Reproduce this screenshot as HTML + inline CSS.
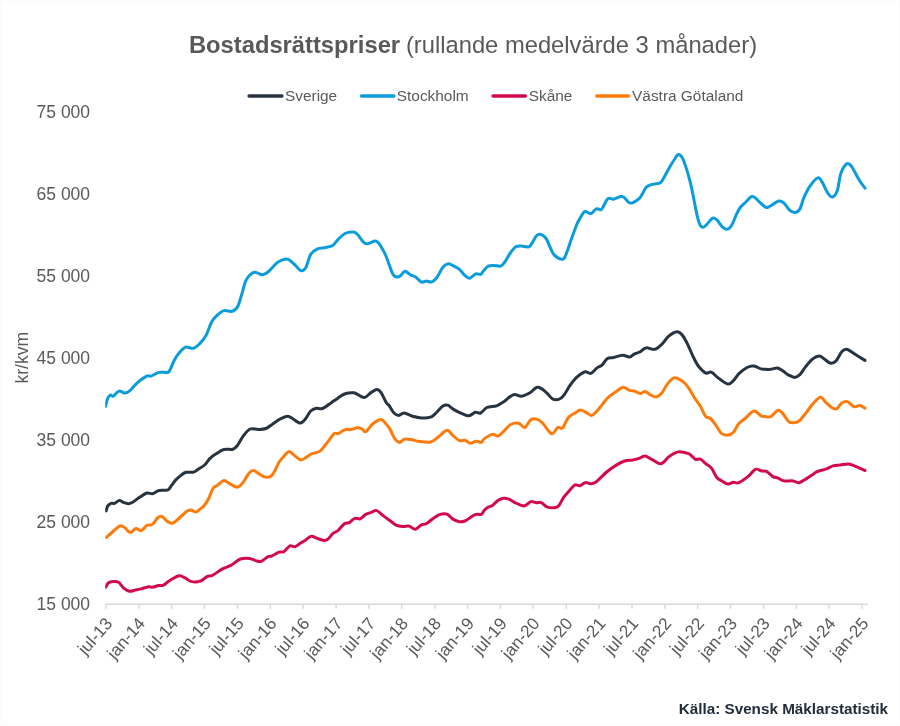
<!DOCTYPE html>
<html><head><meta charset="utf-8"><style>
html,body{margin:0;padding:0;background:#fff;}
body{width:900px;height:726px;overflow:hidden;position:relative;font-family:"Liberation Sans",sans-serif;}
svg{position:absolute;left:0;top:0;will-change:transform;}
text{font-family:"Liberation Sans",sans-serif;}
.yl{font-size:17.5px;fill:#595959;}
.xl{font-size:17.2px;fill:#595959;}
.lg{font-size:15.4px;fill:#595959;}
</style></head><body>
<svg width="900" height="726" viewBox="0 0 900 726">
<defs><clipPath id="pc"><rect x="105.2" y="100" width="780" height="520"/></clipPath></defs>
<rect x="0.5" y="0.5" width="899" height="725" fill="#fff" stroke="#fbfbfb" stroke-width="1"/>
<text x="188.9" y="52.9" style="font-size:23.75px;fill:#595959"><tspan font-weight="bold">Bostadsrättspriser</tspan><tspan dx="-0.8"> (rullande medelvärde 3 månader)</tspan></text>
<g stroke-width="3.3" stroke-linecap="round">
<line x1="249" y1="96" x2="282" y2="96" stroke="#273440"/>
<line x1="361.5" y1="96" x2="394" y2="96" stroke="#0b9cdc"/>
<line x1="493" y1="96" x2="525.5" y2="96" stroke="#d20a4c"/>
<line x1="596.8" y1="96" x2="628.5" y2="96" stroke="#fd7b0a"/>
</g>
<text class="lg" x="285" y="100.5">Sverige</text>
<text class="lg" x="396.8" y="100.5">Stockholm</text>
<text class="lg" x="528.7" y="100.5">Skåne</text>
<text class="lg" x="632.1" y="100.5">Västra Götaland</text>
<text class="yl" transform="translate(27.7,383.5) rotate(-90)" style="font-size:17.5px">kr/kvm</text>
<text x="90.1" y="609.8" text-anchor="end" class="yl">15 000</text>
<text x="90.1" y="527.8" text-anchor="end" class="yl">25 000</text>
<text x="90.1" y="445.8" text-anchor="end" class="yl">35 000</text>
<text x="90.1" y="363.7" text-anchor="end" class="yl">45 000</text>
<text x="90.1" y="281.7" text-anchor="end" class="yl">55 000</text>
<text x="90.1" y="199.7" text-anchor="end" class="yl">65 000</text>
<text x="90.1" y="117.7" text-anchor="end" class="yl">75 000</text>
<line x1="105.9" y1="604.3" x2="867.7" y2="604.3" stroke="#d9d9d9" stroke-width="1.5"/>
<line x1="105.9" y1="604.3" x2="105.9" y2="608.8" stroke="#d9d9d9" stroke-width="1.5"/>
<text class="xl" text-anchor="end" transform="translate(113.2,624.1) rotate(-49)">jul-13</text>
<line x1="138.8" y1="604.3" x2="138.8" y2="608.8" stroke="#d9d9d9" stroke-width="1.5"/>
<text class="xl" text-anchor="end" transform="translate(146.1,624.1) rotate(-49)">jan-14</text>
<line x1="171.7" y1="604.3" x2="171.7" y2="608.8" stroke="#d9d9d9" stroke-width="1.5"/>
<text class="xl" text-anchor="end" transform="translate(179.0,624.1) rotate(-49)">jul-14</text>
<line x1="204.5" y1="604.3" x2="204.5" y2="608.8" stroke="#d9d9d9" stroke-width="1.5"/>
<text class="xl" text-anchor="end" transform="translate(211.8,624.1) rotate(-49)">jan-15</text>
<line x1="237.4" y1="604.3" x2="237.4" y2="608.8" stroke="#d9d9d9" stroke-width="1.5"/>
<text class="xl" text-anchor="end" transform="translate(244.7,624.1) rotate(-49)">jul-15</text>
<line x1="270.3" y1="604.3" x2="270.3" y2="608.8" stroke="#d9d9d9" stroke-width="1.5"/>
<text class="xl" text-anchor="end" transform="translate(277.6,624.1) rotate(-49)">jan-16</text>
<line x1="303.2" y1="604.3" x2="303.2" y2="608.8" stroke="#d9d9d9" stroke-width="1.5"/>
<text class="xl" text-anchor="end" transform="translate(310.5,624.1) rotate(-49)">jul-16</text>
<line x1="336.1" y1="604.3" x2="336.1" y2="608.8" stroke="#d9d9d9" stroke-width="1.5"/>
<text class="xl" text-anchor="end" transform="translate(343.4,624.1) rotate(-49)">jan-17</text>
<line x1="368.9" y1="604.3" x2="368.9" y2="608.8" stroke="#d9d9d9" stroke-width="1.5"/>
<text class="xl" text-anchor="end" transform="translate(376.2,624.1) rotate(-49)">jul-17</text>
<line x1="401.8" y1="604.3" x2="401.8" y2="608.8" stroke="#d9d9d9" stroke-width="1.5"/>
<text class="xl" text-anchor="end" transform="translate(409.1,624.1) rotate(-49)">jan-18</text>
<line x1="434.7" y1="604.3" x2="434.7" y2="608.8" stroke="#d9d9d9" stroke-width="1.5"/>
<text class="xl" text-anchor="end" transform="translate(442.0,624.1) rotate(-49)">jul-18</text>
<line x1="467.6" y1="604.3" x2="467.6" y2="608.8" stroke="#d9d9d9" stroke-width="1.5"/>
<text class="xl" text-anchor="end" transform="translate(474.9,624.1) rotate(-49)">jan-19</text>
<line x1="500.5" y1="604.3" x2="500.5" y2="608.8" stroke="#d9d9d9" stroke-width="1.5"/>
<text class="xl" text-anchor="end" transform="translate(507.8,624.1) rotate(-49)">jul-19</text>
<line x1="533.3" y1="604.3" x2="533.3" y2="608.8" stroke="#d9d9d9" stroke-width="1.5"/>
<text class="xl" text-anchor="end" transform="translate(540.6,624.1) rotate(-49)">jan-20</text>
<line x1="566.2" y1="604.3" x2="566.2" y2="608.8" stroke="#d9d9d9" stroke-width="1.5"/>
<text class="xl" text-anchor="end" transform="translate(573.5,624.1) rotate(-49)">jul-20</text>
<line x1="599.1" y1="604.3" x2="599.1" y2="608.8" stroke="#d9d9d9" stroke-width="1.5"/>
<text class="xl" text-anchor="end" transform="translate(606.4,624.1) rotate(-49)">jan-21</text>
<line x1="632.0" y1="604.3" x2="632.0" y2="608.8" stroke="#d9d9d9" stroke-width="1.5"/>
<text class="xl" text-anchor="end" transform="translate(639.3,624.1) rotate(-49)">jul-21</text>
<line x1="664.9" y1="604.3" x2="664.9" y2="608.8" stroke="#d9d9d9" stroke-width="1.5"/>
<text class="xl" text-anchor="end" transform="translate(672.2,624.1) rotate(-49)">jan-22</text>
<line x1="697.7" y1="604.3" x2="697.7" y2="608.8" stroke="#d9d9d9" stroke-width="1.5"/>
<text class="xl" text-anchor="end" transform="translate(705.0,624.1) rotate(-49)">jul-22</text>
<line x1="730.6" y1="604.3" x2="730.6" y2="608.8" stroke="#d9d9d9" stroke-width="1.5"/>
<text class="xl" text-anchor="end" transform="translate(737.9,624.1) rotate(-49)">jan-23</text>
<line x1="763.5" y1="604.3" x2="763.5" y2="608.8" stroke="#d9d9d9" stroke-width="1.5"/>
<text class="xl" text-anchor="end" transform="translate(770.8,624.1) rotate(-49)">jul-23</text>
<line x1="796.4" y1="604.3" x2="796.4" y2="608.8" stroke="#d9d9d9" stroke-width="1.5"/>
<text class="xl" text-anchor="end" transform="translate(803.7,624.1) rotate(-49)">jan-24</text>
<line x1="829.3" y1="604.3" x2="829.3" y2="608.8" stroke="#d9d9d9" stroke-width="1.5"/>
<text class="xl" text-anchor="end" transform="translate(836.6,624.1) rotate(-49)">jul-24</text>
<line x1="862.1" y1="604.3" x2="862.1" y2="608.8" stroke="#d9d9d9" stroke-width="1.5"/>
<text class="xl" text-anchor="end" transform="translate(869.4,624.1) rotate(-49)">jan-25</text>
<path clip-path="url(#pc)" d="M105.8,587.1C106.2,586.4 107.1,583.9 108.3,583.0C109.5,582.1 111.4,581.7 113.1,581.6C114.8,581.5 116.9,581.3 118.6,582.3C120.3,583.3 121.6,586.3 123.4,587.8C125.2,589.3 127.5,590.9 129.6,591.3C131.7,591.6 133.9,590.3 135.8,589.9C137.8,589.5 139.4,589.4 141.3,588.9C143.2,588.4 145.6,587.2 147.5,586.9C149.4,586.6 151.2,587.3 153.0,587.1C154.8,586.9 156.8,585.8 158.5,585.5C160.2,585.2 161.5,586.0 163.4,585.1C165.3,584.2 167.6,581.8 170.2,580.2C172.8,578.7 176.7,576.1 179.2,575.8C181.7,575.5 183.3,577.2 185.4,578.2C187.5,579.2 189.1,581.1 191.6,581.6C194.1,582.1 197.9,581.9 200.5,581.0C203.1,580.1 205.5,577.3 207.4,576.4C209.3,575.5 209.7,576.8 212.2,575.5C214.7,574.2 219.4,570.6 222.5,568.9C225.6,567.2 227.8,567.0 230.8,565.4C233.8,563.8 237.4,560.1 240.5,559.0C243.6,557.9 246.9,558.2 249.4,558.5C251.9,558.8 253.6,560.1 255.6,560.6C257.6,561.1 259.0,561.9 261.1,561.3C263.2,560.6 266.2,557.6 268.0,556.7C269.8,555.8 270.3,556.6 272.1,555.8C273.9,555.0 277.1,552.8 279.0,552.1C280.9,551.4 282.0,552.8 283.8,551.7C285.6,550.7 288.2,546.6 290.0,545.8C291.8,545.0 293.0,547.3 294.8,546.8C296.6,546.3 299.2,543.9 301.0,542.7C302.8,541.6 304.1,541.0 305.8,539.9C307.5,538.8 309.4,536.4 311.3,536.2C313.2,536.0 315.3,537.8 317.5,538.5C319.7,539.2 322.7,540.5 324.4,540.6C326.1,540.7 326.5,540.4 327.9,539.2C329.3,538.1 331.0,535.2 332.7,533.7C334.4,532.2 336.2,531.9 338.2,530.3C340.1,528.6 342.6,525.1 344.4,523.8C346.2,522.5 347.5,523.6 349.2,522.7C350.9,521.8 352.9,518.9 354.7,518.3C356.5,517.6 358.3,519.4 360.2,518.8C362.1,518.1 363.9,515.5 365.8,514.4C367.7,513.3 369.5,513.0 371.3,512.4C373.1,511.8 374.7,510.0 376.8,510.6C378.9,511.2 381.4,514.4 383.7,516.1C386.0,517.8 388.4,519.5 390.5,521.0C392.6,522.5 393.9,524.2 396.0,525.1C398.1,526.0 400.7,526.3 402.9,526.5C405.1,526.7 407.0,525.6 409.1,526.1C411.2,526.6 413.2,529.4 415.3,529.2C417.4,529.0 419.7,525.7 421.5,524.8C423.3,523.9 424.4,524.8 426.3,523.7C428.2,522.7 430.9,520.0 433.2,518.5C435.5,517.0 437.8,515.1 440.1,514.4C442.4,513.7 444.9,513.4 447.0,514.1C449.1,514.9 450.4,517.6 452.5,518.9C454.6,520.2 457.3,521.4 459.4,521.7C461.5,522.1 463.1,521.7 464.9,521.0C466.7,520.3 468.6,518.6 470.4,517.5C472.2,516.4 474.1,514.9 475.9,514.4C477.7,513.9 480.0,515.0 481.4,514.4C482.8,513.8 483.0,511.8 484.1,510.6C485.2,509.4 486.9,508.0 488.3,507.1C489.7,506.2 490.8,506.6 492.4,505.5C494.0,504.4 496.1,501.7 497.9,500.5C499.7,499.3 501.6,498.4 503.4,498.2C505.2,498.0 506.8,498.3 508.9,499.1C511.0,499.9 513.5,501.9 515.8,503.0C518.1,504.1 521.0,505.4 522.7,505.8C524.4,506.2 524.7,505.8 526.1,505.1C527.5,504.4 529.3,502.0 531.0,501.6C532.7,501.2 534.8,502.5 536.5,502.7C538.2,502.9 539.5,501.9 541.3,502.6C543.1,503.3 545.1,506.3 547.5,507.1C549.9,507.9 553.8,507.7 555.8,507.4C557.8,507.1 557.8,506.9 559.2,505.1C560.6,503.3 562.3,499.2 564.0,496.8C565.7,494.4 567.7,492.6 569.5,490.6C571.3,488.6 573.3,485.6 575.0,484.8C576.7,484.0 578.1,486.2 579.8,485.8C581.5,485.4 583.5,483.0 585.3,482.6C587.1,482.2 589.0,483.9 590.8,483.7C592.6,483.5 593.6,483.6 596.3,481.7C598.9,479.8 603.4,474.8 606.7,472.0C610.0,469.2 613.3,466.9 616.3,465.1C619.3,463.3 621.8,461.9 624.6,461.0C627.4,460.1 630.4,460.5 632.9,460.0C635.4,459.5 637.7,458.9 639.7,458.2C641.8,457.5 643.1,455.7 645.2,455.9C647.3,456.1 649.5,458.3 652.1,459.6C654.8,460.9 658.3,464.1 661.1,463.7C663.9,463.2 666.5,458.6 668.7,456.9C670.9,455.2 672.3,454.2 674.1,453.4C675.9,452.5 677.3,451.8 679.6,451.8C681.9,451.8 685.8,452.7 687.9,453.4C690.0,454.1 690.7,455.2 692.0,456.2C693.3,457.2 694.1,458.8 695.5,459.3C696.9,459.8 698.6,458.5 700.3,459.2C702.0,459.9 704.0,462.2 705.8,463.7C707.6,465.1 709.5,465.6 711.3,467.9C713.1,470.2 715.0,475.3 716.8,477.5C718.6,479.7 720.4,480.1 722.3,481.2C724.1,482.3 726.0,483.8 727.9,484.0C729.8,484.2 731.6,482.5 733.4,482.3C735.2,482.1 736.4,483.6 738.9,482.6C741.4,481.6 745.8,478.3 748.5,476.1C751.2,473.9 753.2,470.2 755.4,469.3C757.6,468.4 759.8,470.7 761.6,471.0C763.4,471.3 764.5,470.4 766.4,471.3C768.3,472.2 771.1,475.5 773.0,476.6C774.9,477.7 776.2,477.3 778.0,478.0C779.8,478.7 781.3,480.4 783.8,480.9C786.3,481.4 790.7,480.6 793.2,480.9C795.7,481.2 797.0,483.1 799.0,482.8C801.0,482.5 803.5,480.4 805.5,479.2C807.5,478.0 809.4,476.9 811.3,475.6C813.2,474.4 814.7,472.8 817.1,471.7C819.5,470.6 823.1,470.1 825.7,469.1C828.4,468.1 830.6,466.6 833.0,465.9C835.4,465.2 837.7,465.3 840.2,465.0C842.7,464.7 846.0,463.9 848.2,464.0C850.4,464.1 851.4,464.8 853.2,465.4C855.0,466.0 857.0,467.0 859.0,467.9C861.0,468.8 864.0,470.1 865.0,470.5" fill="none" stroke="#d20a4c" stroke-width="3" stroke-linejoin="round" stroke-linecap="round"/>
<path clip-path="url(#pc)" d="M106.2,537.5C107.2,536.6 110.1,534.0 112.4,532.0C114.7,530.0 117.9,526.5 120.0,525.8C122.1,525.1 123.1,526.7 124.8,527.8C126.5,528.9 128.5,532.5 130.3,532.6C132.1,532.7 134.0,528.8 135.8,528.5C137.6,528.2 139.5,531.1 141.3,530.6C143.1,530.1 145.0,526.5 146.8,525.5C148.6,524.5 150.5,525.7 152.3,524.4C154.2,523.1 156.3,518.8 157.9,517.5C159.5,516.2 160.4,515.7 162.0,516.4C163.6,517.1 165.7,520.5 167.5,521.6C169.3,522.7 170.9,523.7 173.0,523.0C175.1,522.3 177.6,519.5 179.9,517.5C182.2,515.5 185.0,512.6 186.8,511.3C188.6,510.0 189.4,509.8 190.9,509.9C192.4,510.0 194.2,512.1 195.7,512.0C197.2,511.9 198.5,510.4 200.0,509.2C201.5,508.0 203.1,506.8 204.6,505.0C206.1,503.2 207.4,500.9 208.8,498.2C210.2,495.4 211.4,490.7 212.9,488.5C214.4,486.3 215.9,486.4 217.7,485.1C219.5,483.8 221.7,480.6 223.9,480.5C226.1,480.4 228.5,483.3 230.8,484.4C233.1,485.5 235.6,487.5 237.7,487.1C239.8,486.8 241.4,484.6 243.2,482.3C245.0,480.0 247.0,475.3 248.7,473.4C250.4,471.4 251.9,470.6 253.5,470.6C255.1,470.6 256.7,472.4 258.4,473.4C260.1,474.4 261.8,476.3 263.9,476.8C266.0,477.3 269.0,477.4 270.8,476.4C272.6,475.4 273.5,473.0 274.9,470.6C276.3,468.2 277.4,464.8 279.0,462.3C280.6,459.8 282.8,457.3 284.5,455.5C286.2,453.7 287.6,451.5 289.4,451.6C291.2,451.8 293.6,455.0 295.5,456.4C297.4,457.8 299.2,459.9 301.0,460.0C302.8,460.1 304.7,458.2 306.5,457.1C308.3,456.1 309.7,454.7 312.0,453.7C314.3,452.7 317.8,452.8 320.3,450.9C322.8,449.0 324.9,445.5 327.2,442.6C329.5,439.7 332.3,435.2 334.1,433.7C335.9,432.2 336.4,434.4 338.2,433.7C340.0,433.0 343.0,430.3 345.1,429.6C347.2,428.9 348.5,429.9 350.6,429.6C352.7,429.3 355.7,428.0 357.5,427.8C359.3,427.6 360.2,428.0 361.6,428.6C363.0,429.2 364.0,432.4 365.8,431.6C367.6,430.8 370.1,426.0 372.6,424.0C375.1,422.0 378.8,419.7 380.9,419.5C383.0,419.3 383.5,421.1 385.0,422.7C386.5,424.3 388.2,426.3 389.8,428.9C391.4,431.5 393.0,436.2 394.6,438.5C396.2,440.8 397.9,442.3 399.5,442.4C401.1,442.5 402.4,439.7 404.3,439.2C406.2,438.7 408.7,439.2 411.2,439.6C413.7,440.0 416.2,441.1 419.4,441.5C422.6,441.9 427.5,442.6 430.5,442.0C433.5,441.4 435.2,439.3 437.3,437.8C439.4,436.3 441.2,434.3 442.9,433.0C444.6,431.7 446.1,429.8 447.7,430.2C449.3,430.6 450.6,433.4 452.5,435.1C454.4,436.8 457.3,439.8 459.4,440.6C461.5,441.5 463.1,439.8 464.9,440.2C466.7,440.6 468.6,443.1 470.4,443.3C472.2,443.5 474.1,441.5 475.9,441.3C477.7,441.1 480.0,442.8 481.4,442.4C482.8,442.0 482.3,440.2 484.1,438.9C485.9,437.6 490.1,434.9 492.4,434.4C494.7,433.9 496.1,436.6 497.9,436.1C499.7,435.6 501.3,433.5 503.4,431.6C505.5,429.7 507.8,426.1 510.3,424.7C512.8,423.3 516.2,422.8 518.6,423.3C521.0,423.8 522.7,428.1 524.8,427.5C526.9,426.9 528.8,420.9 531.0,419.6C533.2,418.3 535.8,418.9 537.9,419.6C540.0,420.3 541.1,421.6 543.4,424.0C545.7,426.4 549.2,433.1 551.6,433.7C554.0,434.3 556.0,428.5 557.8,427.5C559.6,426.5 560.9,429.5 562.6,427.9C564.3,426.3 566.1,420.3 568.2,417.8C570.3,415.3 573.0,414.3 575.0,413.0C577.0,411.7 578.7,410.0 580.5,409.9C582.3,409.8 584.2,411.4 586.0,412.3C587.8,413.2 589.7,415.6 591.5,415.4C593.3,415.2 595.2,412.9 597.0,411.0C598.8,409.1 600.6,406.4 602.5,404.1C604.4,401.9 605.8,399.6 608.1,397.5C610.4,395.4 613.8,393.1 616.3,391.4C618.8,389.7 621.0,387.5 623.2,387.3C625.4,387.1 627.6,389.7 629.4,390.3C631.2,390.9 632.4,390.5 634.2,391.0C636.0,391.5 638.6,393.4 640.4,393.5C642.2,393.6 643.5,391.1 645.2,391.4C646.9,391.7 648.9,394.2 650.8,395.1C652.6,396.0 654.5,397.2 656.3,396.9C658.1,396.6 660.0,395.2 661.8,393.1C663.6,391.0 665.2,386.6 667.3,384.1C669.3,381.6 671.6,378.4 674.1,377.9C676.6,377.4 680.1,379.8 682.4,381.3C684.7,382.8 685.9,384.2 687.9,386.9C689.9,389.5 692.0,394.0 694.1,397.2C696.2,400.4 698.3,402.9 700.3,406.1C702.2,409.3 704.1,414.4 705.8,416.5C707.5,418.6 709.0,417.1 710.6,418.5C712.2,419.9 713.6,422.2 715.5,424.7C717.4,427.2 719.6,432.0 721.7,433.7C723.8,435.4 726.0,435.3 727.9,435.1C729.8,434.9 731.6,434.2 733.4,432.3C735.2,430.4 736.9,425.7 738.9,423.4C740.9,421.1 742.6,420.6 745.1,418.5C747.6,416.4 751.4,411.4 754.0,411.0C756.6,410.6 759.1,414.9 760.9,415.8C762.7,416.7 763.4,416.4 765.0,416.5C766.6,416.6 768.6,417.5 770.8,416.5C773.0,415.5 776.0,410.7 778.0,410.3C780.0,409.9 781.3,412.0 783.1,413.9C784.9,415.8 786.9,420.4 788.9,421.8C790.9,423.2 793.6,422.8 795.4,422.6C797.2,422.4 797.8,422.2 799.7,420.4C801.6,418.6 804.5,414.7 806.9,411.7C809.3,408.7 811.9,404.7 814.2,402.3C816.5,399.9 818.8,397.3 820.7,397.3C822.6,397.3 823.9,400.6 825.7,402.3C827.5,404.0 829.7,406.3 831.5,407.4C833.3,408.5 834.9,409.5 836.6,408.8C838.3,408.1 839.9,404.2 841.7,403.0C843.5,401.8 845.4,401.0 847.4,401.6C849.4,402.2 852.0,406.1 854.0,406.7C856.0,407.3 857.9,405.3 859.7,405.5C861.5,405.7 864.1,407.7 865.0,408.1" fill="none" stroke="#fd7b0a" stroke-width="3" stroke-linejoin="round" stroke-linecap="round"/>
<path clip-path="url(#pc)" d="M106.2,510.9C106.4,510.1 106.8,507.4 107.6,506.1C108.4,504.8 109.8,503.8 111.0,503.3C112.2,502.8 113.1,503.8 114.5,503.3C115.9,502.9 117.7,500.7 119.3,500.6C120.9,500.5 122.5,502.1 124.1,502.6C125.7,503.1 127.4,503.8 128.9,503.7C130.4,503.6 131.3,503.1 133.1,502.0C134.9,500.9 137.6,498.6 139.9,497.1C142.2,495.6 144.7,493.6 146.8,493.0C148.9,492.4 150.5,494.1 152.3,493.7C154.2,493.3 156.1,491.5 157.9,490.9C159.8,490.3 161.7,490.4 163.4,490.2C165.1,490.0 166.8,490.6 168.2,489.8C169.6,489.0 170.3,487.0 171.6,485.4C172.9,483.8 174.2,481.6 175.8,479.9C177.4,478.2 179.6,476.4 181.3,475.1C183.0,473.8 184.0,472.8 186.1,472.3C188.2,471.8 191.8,472.6 193.7,472.1C195.6,471.6 196.0,470.7 197.8,469.5C199.6,468.3 202.5,466.9 204.6,465.0C206.7,463.1 208.3,460.0 210.2,458.2C212.0,456.4 213.4,455.4 215.7,454.0C218.0,452.6 221.0,450.3 223.9,449.5C226.8,448.7 230.6,449.9 232.9,449.2C235.2,448.5 236.0,447.3 237.7,445.1C239.4,442.9 241.1,438.8 243.2,436.1C245.3,433.4 247.6,430.1 250.1,429.0C252.6,427.9 255.8,429.6 258.4,429.5C261.0,429.4 263.6,429.4 265.9,428.5C268.2,427.6 269.7,426.0 272.1,424.4C274.5,422.8 277.6,420.2 280.4,418.9C283.2,417.6 286.2,416.1 288.7,416.4C291.2,416.7 293.6,419.5 295.5,420.6C297.4,421.7 298.7,423.3 300.3,423.1C301.9,422.9 303.5,421.2 305.2,419.2C306.9,417.2 308.9,412.8 310.7,411.0C312.5,409.2 314.2,408.6 316.2,408.2C318.1,407.8 319.9,409.4 322.4,408.5C324.9,407.6 328.7,404.5 331.3,402.7C333.9,400.9 335.9,399.4 338.2,397.9C340.5,396.4 342.6,394.5 345.1,393.7C347.6,392.9 351.3,392.7 353.4,392.8C355.5,392.9 355.7,393.6 357.5,394.4C359.3,395.2 362.1,397.8 364.4,397.5C366.7,397.2 369.2,393.7 371.3,392.4C373.4,391.1 375.2,389.6 376.8,389.6C378.4,389.6 379.3,390.2 380.9,392.4C382.5,394.6 385.0,400.5 386.4,402.7C387.8,404.9 387.8,403.8 389.1,405.5C390.4,407.2 392.4,411.4 394.0,413.0C395.6,414.6 397.1,415.4 398.8,415.4C400.5,415.4 402.0,412.9 404.3,413.0C406.6,413.1 409.6,415.4 412.5,416.2C415.4,417.0 418.5,417.7 421.5,417.9C424.5,418.1 428.1,418.0 430.5,417.2C432.9,416.4 433.9,414.9 436.0,413.0C438.1,411.1 440.9,407.4 442.9,406.1C444.8,404.8 445.9,404.6 447.7,405.2C449.5,405.8 451.5,408.2 453.9,409.6C456.3,411.0 459.6,412.7 462.1,413.7C464.6,414.7 466.8,416.0 469.0,415.8C471.2,415.6 473.2,412.8 475.2,412.3C477.1,411.8 478.8,413.8 480.7,413.0C482.6,412.2 484.3,408.7 486.9,407.5C489.5,406.3 493.8,406.7 496.5,405.8C499.2,404.9 500.6,403.8 503.4,402.0C506.2,400.2 510.1,395.8 513.1,394.8C516.1,393.8 518.5,396.5 521.3,396.2C524.0,395.9 527.1,394.4 529.6,393.0C532.1,391.6 534.4,388.2 536.5,387.5C538.6,386.8 540.2,387.9 542.0,388.9C543.8,389.9 545.7,392.0 547.5,393.7C549.3,395.4 551.0,398.3 553.0,399.2C555.0,400.1 557.4,399.9 559.2,399.2C561.0,398.5 562.3,397.3 564.0,395.1C565.7,392.9 567.7,388.8 569.5,386.1C571.3,383.4 573.3,380.8 575.0,378.9C576.7,377.0 578.1,375.9 579.8,374.7C581.5,373.5 583.5,371.9 585.3,371.7C587.1,371.5 588.8,374.0 590.8,373.4C592.8,372.8 595.1,369.3 597.0,367.9C598.9,366.5 600.2,366.7 601.9,365.1C603.6,363.5 605.4,359.8 607.4,358.5C609.4,357.2 611.1,358.1 613.6,357.5C616.1,356.9 619.9,355.3 622.5,355.2C625.1,355.1 627.4,357.3 629.4,357.1C631.4,356.9 632.5,355.0 634.2,354.1C635.9,353.2 637.8,353.0 639.7,352.0C641.7,351.0 643.4,348.3 645.9,347.9C648.4,347.4 652.2,349.9 654.9,349.3C657.5,348.7 659.5,346.6 661.8,344.4C664.1,342.2 666.2,338.3 668.7,336.2C671.2,334.1 674.6,331.9 676.9,331.7C679.2,331.5 680.6,333.0 682.4,335.2C684.2,337.4 686.1,341.1 687.9,344.8C689.7,348.5 691.6,353.5 693.4,357.2C695.2,360.9 696.8,364.2 698.9,366.8C701.0,369.4 703.7,372.1 705.8,373.0C707.9,373.9 709.2,371.3 711.3,372.1C713.4,372.9 715.4,375.9 718.2,377.9C721.0,379.9 725.4,383.6 727.9,384.0C730.4,384.4 731.6,382.3 733.4,380.6C735.2,378.9 736.6,375.9 738.9,373.7C741.2,371.5 744.6,368.8 747.1,367.5C749.6,366.2 751.7,365.9 754.0,366.1C756.3,366.3 759.1,368.4 760.9,368.9C762.7,369.4 763.4,369.2 765.0,369.3C766.6,369.4 768.8,369.5 770.8,369.3C772.8,369.1 775.4,367.7 777.3,367.9C779.2,368.1 780.6,369.4 782.4,370.5C784.2,371.6 786.0,373.7 788.1,374.8C790.2,375.9 792.8,377.4 794.7,377.4C796.6,377.4 797.9,376.6 799.7,374.8C801.5,373.1 803.3,369.5 805.5,366.9C807.7,364.2 810.4,360.7 812.7,358.9C815.0,357.1 817.3,356.0 819.2,356.0C821.1,356.0 822.5,357.7 824.3,358.9C826.1,360.1 828.2,362.6 830.1,363.0C832.0,363.4 834.0,363.0 835.9,361.1C837.8,359.2 839.9,353.7 841.7,351.7C843.5,349.7 844.8,349.0 846.7,349.2C848.6,349.4 851.2,351.8 853.2,353.1C855.2,354.4 857.0,355.6 859.0,356.8C861.0,358.0 864.0,359.8 865.0,360.4" fill="none" stroke="#273440" stroke-width="3" stroke-linejoin="round" stroke-linecap="round"/>
<path clip-path="url(#pc)" d="M105.6,406.2C105.9,404.9 106.9,400.2 107.7,398.3C108.5,396.4 109.6,395.4 110.5,395.0C111.4,394.6 111.9,396.8 113.3,396.1C114.7,395.5 117.0,391.6 118.9,391.1C120.9,390.6 123.2,393.2 125.0,393.1C126.8,393.0 128.1,392.2 130.0,390.6C131.9,389.0 133.9,385.7 136.7,383.3C139.5,380.9 144.3,377.3 146.7,376.1C149.1,374.9 149.1,376.7 151.1,376.1C153.1,375.5 156.3,373.0 158.9,372.4C161.5,371.8 164.9,372.6 166.7,372.4C168.4,372.2 168.1,373.2 169.4,371.1C170.7,369.0 172.8,363.0 174.4,360.0C176.0,357.0 177.0,355.4 178.9,353.3C180.8,351.2 183.2,348.0 185.6,347.2C188.0,346.4 191.0,348.9 193.3,348.3C195.6,347.8 197.3,346.0 199.4,343.9C201.5,341.8 204.0,339.0 206.0,335.4C208.0,331.8 209.7,325.6 211.5,322.3C213.3,319.0 214.9,317.3 217.0,315.4C219.1,313.4 221.4,311.3 223.9,310.6C226.4,309.9 229.9,312.0 232.2,311.3C234.5,310.6 236.1,309.4 237.7,306.5C239.3,303.6 240.4,298.5 241.8,294.1C243.2,289.7 244.2,283.9 246.0,280.3C247.8,276.7 250.8,273.9 252.9,272.7C255.0,271.5 256.8,273.0 258.4,273.4C260.0,273.8 260.9,275.0 262.5,274.8C264.1,274.6 265.5,274.1 268.0,272.0C270.5,269.9 274.6,264.6 277.6,262.4C280.6,260.2 283.8,259.3 285.9,259.0C288.0,258.7 288.4,259.4 290.0,260.5C291.6,261.6 293.7,263.8 295.5,265.5C297.3,267.2 299.3,270.4 301.0,270.7C302.7,271.0 304.2,270.2 305.8,267.5C307.4,264.8 308.8,257.5 310.7,254.4C312.6,251.3 315.0,250.1 317.5,248.9C320.0,247.8 323.3,248.1 325.8,247.5C328.3,246.9 330.6,246.9 332.7,245.5C334.8,244.1 336.1,241.3 338.2,239.3C340.3,237.3 342.6,234.7 345.1,233.5C347.6,232.3 351.3,231.9 353.4,232.1C355.5,232.3 355.4,232.6 357.5,234.5C359.6,236.4 362.7,242.6 365.8,243.7C368.9,244.8 373.4,240.3 376.2,241.2C379.0,242.1 380.7,246.3 382.4,249.0C384.1,251.7 385.3,254.4 386.5,257.3C387.7,260.2 388.7,263.5 389.8,266.4C390.9,269.3 391.9,272.8 393.1,274.6C394.3,276.4 395.9,277.0 397.2,277.1C398.5,277.2 399.5,276.5 400.8,275.5C402.1,274.5 403.4,271.4 405.0,271.3C406.6,271.2 408.8,273.9 410.5,274.8C412.2,275.7 413.5,275.6 415.3,276.8C417.1,278.0 419.7,281.4 421.5,282.1C423.3,282.8 424.6,281.0 426.3,281.0C428.0,281.0 430.0,282.6 431.8,281.9C433.6,281.2 435.5,279.2 437.3,276.8C439.1,274.4 441.0,269.4 442.9,267.2C444.8,265.0 446.6,263.9 448.4,263.7C450.2,263.5 452.1,265.2 453.9,266.1C455.7,267.0 457.6,267.7 459.4,269.3C461.2,270.9 463.2,274.0 464.9,275.5C466.6,277.0 467.9,278.5 469.7,278.2C471.5,277.9 474.1,274.4 475.9,273.8C477.7,273.2 479.4,274.9 480.7,274.4C481.9,273.9 482.1,272.3 483.4,270.9C484.7,269.5 486.6,267.0 488.3,266.1C490.0,265.2 491.7,265.4 493.8,265.4C495.9,265.4 498.9,266.7 500.7,266.1C502.5,265.5 503.2,264.2 504.8,262.0C506.4,259.8 508.5,255.5 510.3,253.0C512.1,250.5 514.0,248.0 515.8,246.8C517.6,245.7 519.1,246.1 521.3,246.1C523.5,246.1 527.1,247.4 528.9,246.8C530.7,246.2 531.0,244.5 532.3,242.7C533.6,240.9 535.1,237.2 536.5,235.8C537.9,234.4 539.0,234.0 540.6,234.4C542.2,234.8 544.5,236.3 546.1,238.5C547.7,240.7 548.8,244.7 550.2,247.5C551.6,250.3 552.4,253.2 554.4,255.1C556.4,257.1 560.2,259.1 562.0,259.2C563.8,259.3 563.9,258.9 565.4,255.8C566.9,252.7 569.1,245.7 570.9,240.6C572.7,235.5 575.0,228.9 576.4,225.5C577.8,222.1 577.7,222.2 579.1,219.9C580.5,217.6 582.7,212.6 584.6,211.6C586.5,210.6 588.8,214.1 590.8,213.7C592.8,213.2 594.6,209.6 596.3,208.9C598.0,208.2 599.9,210.2 601.2,209.6C602.5,209.0 602.8,207.2 603.9,205.4C605.0,203.6 606.5,199.5 608.1,198.5C609.7,197.5 611.5,199.5 613.6,199.2C615.7,198.9 618.8,196.8 620.5,196.5C622.2,196.2 622.3,196.1 623.9,197.2C625.5,198.3 627.7,202.8 630.1,203.1C632.5,203.4 636.3,200.8 638.4,199.2C640.5,197.6 641.1,195.8 642.5,193.7C643.9,191.6 644.8,188.4 646.6,186.8C648.4,185.2 651.2,184.8 653.5,184.1C655.8,183.4 658.6,184.0 660.4,182.7C662.2,181.4 662.9,179.2 664.5,176.5C666.1,173.8 668.4,169.2 670.0,166.5C671.6,163.8 672.7,162.0 674.1,160.0C675.5,158.0 676.9,154.8 678.3,154.5C679.7,154.2 681.0,155.5 682.4,157.9C683.8,160.3 685.1,164.5 686.5,168.9C687.9,173.3 689.4,178.8 690.7,184.1C692.0,189.4 693.0,195.1 694.1,200.6C695.2,206.1 696.5,213.0 697.5,217.1C698.5,221.2 699.3,223.7 700.3,225.4C701.3,227.1 702.6,227.3 703.7,227.1C704.9,226.9 705.7,225.5 707.2,224.0C708.7,222.5 711.1,218.9 712.7,218.2C714.3,217.5 715.2,218.5 716.8,219.9C718.4,221.3 720.6,225.2 722.3,226.8C724.0,228.4 725.6,229.7 727.2,229.3C728.8,229.0 730.5,227.1 732.0,224.7C733.5,222.3 734.7,218.0 736.1,215.1C737.5,212.2 738.6,209.7 740.2,207.5C741.8,205.3 743.9,203.8 745.8,202.0C747.6,200.2 749.7,197.4 751.3,196.7C752.9,196.0 753.8,196.8 755.4,197.9C757.0,199.0 759.1,201.8 760.9,203.4C762.7,205.0 764.8,207.1 766.4,207.5C768.0,207.9 768.8,206.9 770.8,205.8C772.8,204.7 776.5,201.5 778.7,201.0C780.9,200.5 782.0,201.4 783.8,202.9C785.6,204.4 787.8,208.5 789.6,210.1C791.4,211.7 793.0,212.7 794.7,212.6C796.4,212.5 798.1,212.0 799.7,209.4C801.3,206.8 802.4,200.9 804.1,197.1C805.8,193.2 807.5,189.5 809.8,186.3C812.1,183.1 815.8,178.6 817.8,177.9C819.8,177.2 820.5,179.5 822.1,181.9C823.7,184.3 825.5,189.6 827.2,192.1C828.9,194.6 830.6,197.3 832.3,197.1C834.0,196.8 835.9,194.6 837.3,190.6C838.7,186.6 839.3,177.8 840.9,173.3C842.5,168.9 844.9,165.0 846.7,163.9C848.5,162.8 849.8,164.2 851.8,166.8C853.8,169.5 856.8,176.2 859.0,179.8C861.2,183.4 864.0,186.8 865.0,188.2" fill="none" stroke="#0b9cdc" stroke-width="3" stroke-linejoin="round" stroke-linecap="round"/>
<text x="888.1" y="713.9" text-anchor="end" style="font-size:15.25px;font-weight:bold;fill:#222d3a">Källa: Svensk Mäklarstatistik</text>
</svg>
</body></html>
